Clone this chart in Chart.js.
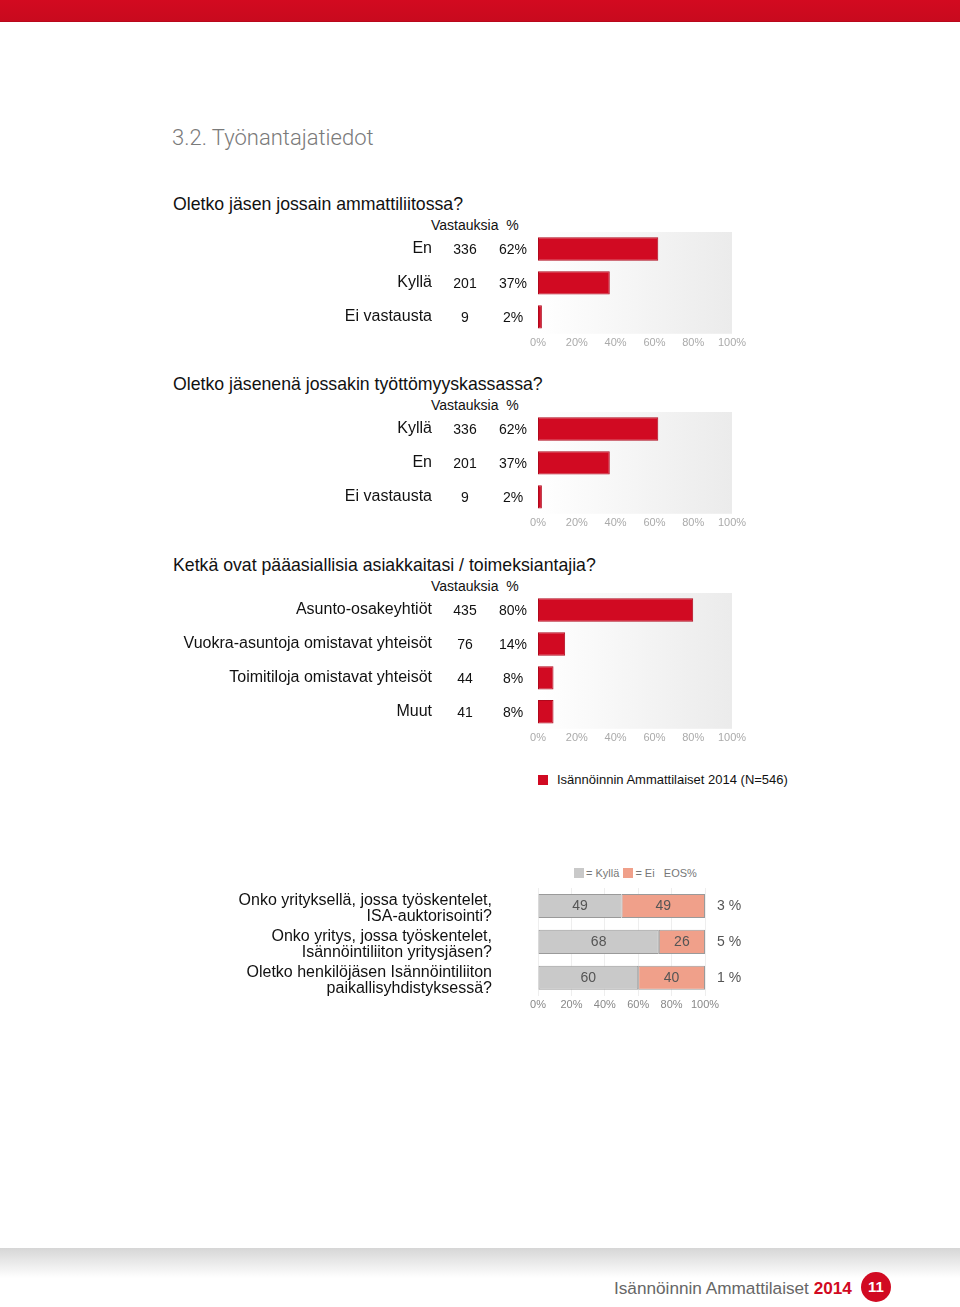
<!DOCTYPE html>
<html>
<head>
<meta charset="utf-8">
<script src="https://cdn.jsdelivr.net/npm/chart.js@4.4.0/dist/chart.umd.min.js"></script>
<style>
  body { margin: 0; width: 960px; height: 1307px; position: relative; background: #fff; font-family: "Liberation Sans", Arial, sans-serif; overflow: hidden; }
  .topbar { position: absolute; left: 0; top: 0; width: 960px; height: 21px; background: linear-gradient(#d30a20, #c80a1e); border-bottom: 1px solid #b8081c; }
  .title { position: absolute; left: 172px; top: 125px; font-family: Roboto, sans-serif; font-weight: 300; font-size: 22px; color: #7a7a7a; }
  .q { position: absolute; left: 173px; font-size: 17.7px; color: #111; }
  .colhead { position: absolute; left: 431px; font-size: 14px; color: #111; }
  .box { position: absolute; }
  .legend { position: absolute; left: 538px; top: 772px; font-size: 13px; color: #111; }
  .legend span.sw { display: inline-block; width: 10px; height: 10px; background: #d10a22; margin-right: 9px; vertical-align: -1px; }
  .legend4 { position: absolute; left: 574px; top: 867px; font-size: 11px; color: #777; }
  .legend4 .sw { display: inline-block; width: 10px; height: 10px; vertical-align: -1px; margin-right: 2px; }
  .footshade { position: absolute; left: 0; top: 1248px; width: 960px; height: 30px; background: linear-gradient(#d6d6d6, #ffffff); }
  .foot { position: absolute; left: 614px; top: 1278px; font-size: 17.2px; color: #666; }
  .foot b { color: #d10a22; }
  .pagenum { position: absolute; left: 861px; top: 1272px; width: 30px; height: 30px; border-radius: 50%; background: #d10a22; color: #fff; font-weight: bold; font-size: 15px; text-align: center; line-height: 30px; }
</style>
</head>
<body>
<div class="topbar"></div>
<div class="title">3.2. Työnantajatiedot</div>

<div class="q" style="top:194px">Oletko jäsen jossain ammattiliitossa?</div>
<div class="colhead" style="top:217px">Vastauksia&nbsp; %</div>
<div class="box" style="left:170px; top:232px; width:590px; height:121px"><canvas id="chart1"></canvas></div>

<div class="q" style="top:374px">Oletko jäsenenä jossakin työttömyyskassassa?</div>
<div class="colhead" style="top:397px">Vastauksia&nbsp; %</div>
<div class="box" style="left:170px; top:412px; width:590px; height:121px"><canvas id="chart2"></canvas></div>

<div class="q" style="top:555px">Ketkä ovat pääasiallisia asiakkaitasi / toimeksiantajia?</div>
<div class="colhead" style="top:578px">Vastauksia&nbsp; %</div>
<div class="box" style="left:170px; top:593px; width:590px; height:155px"><canvas id="chart3"></canvas></div>

<div class="legend"><span class="sw"></span>Isännöinnin Ammattilaiset 2014 (N=546)</div>

<div class="legend4"><span class="sw" style="background:#c9c9c9"></span>= Kyllä <span class="sw" style="background:#f0a08a; margin-left:1px"></span>= Ei &nbsp; EOS%</div>
<div class="box" style="left:230px; top:888px; width:530px; height:127px"><canvas id="chart4"></canvas></div>

<div class="footshade"></div>
<div class="foot">Isännöinnin Ammattilaiset <b>2014</b></div>
<div class="pagenum">11</div>

<script>
// --- data ---
const pctTicks = [0, 20, 40, 60, 80, 100];

const q1Labels = ['En', 'Kyllä', 'Ei vastausta'];
const q1Counts = [336, 201, 9];
const q1Pct = [62, 37, 2];

const q2Labels = ['Kyllä', 'En', 'Ei vastausta'];
const q2Counts = [336, 201, 9];
const q2Pct = [62, 37, 2];

const q3Labels = ['Asunto-osakeyhtiöt', 'Vuokra-asuntoja omistavat yhteisöt', 'Toimitiloja omistavat yhteisöt', 'Muut'];
const q3Counts = [435, 76, 44, 41];
const q3Pct = [80, 14, 8, 8];

const q4Questions = [
    ['Onko yrityksellä, jossa työskentelet,', 'ISA-auktorisointi?'],
    ['Onko yritys, jossa työskentelet,', 'Isännöintiliiton yritysjäsen?'],
    ['Oletko henkilöjäsen Isännöintiliiton', 'paikallisyhdistyksessä?']
];
const q4Yes = [49, 68, 60];
const q4No = [49, 26, 40];
const q4Eos = [3, 5, 1];

const RED = '#d10a22';
const FONT = '"Liberation Sans", Arial, sans-serif';

// light gradient behind the plot area
const plotBackground = {
    id: 'plotBackground',
    beforeDatasetsDraw(chart) {
        const a = chart.chartArea;
        const ctx = chart.ctx;
        const g = ctx.createLinearGradient(a.left, 0, a.right, 0);
        g.addColorStop(0, '#ffffff');
        g.addColorStop(1, '#ebebeb');
        ctx.save();
        ctx.fillStyle = g;
        ctx.fillRect(a.left, a.top, a.right - a.left, a.bottom - a.top);
        ctx.restore();
    }
};

// category / count / percent columns left of the bars
function rowLabels(labels, counts, pcts) {
    return {
        id: 'rowLabels',
        afterDraw(chart) {
            const ctx = chart.ctx;
            const y = chart.scales.y;
            const left = chart.chartArea.left;
            ctx.save();
            ctx.fillStyle = '#111';
            ctx.textBaseline = 'middle';
            labels.forEach(function (lab, i) {
                const py = y.getPixelForValue(i);
                ctx.font = '16px ' + FONT;
                ctx.textAlign = 'right';
                ctx.fillText(lab, left - 106, py);
                ctx.font = '14px ' + FONT;
                ctx.textAlign = 'center';
                ctx.fillText(counts[i], left - 73, py + 1);
                ctx.fillText(pcts[i] + '%', left - 25, py + 1);
            });
            ctx.restore();
        }
    };
}

function makeBarChart(id, labels, counts, pcts) {
    const ctx = document.getElementById(id).getContext('2d');
    return new Chart(ctx, {
        type: 'bar',
        data: {
            labels: labels,
            datasets: [{
                data: pcts,
                backgroundColor: RED,
                borderColor: '#b0081c',
                borderWidth: 1,
                borderSkipped: false,
                barPercentage: 0.69,
                categoryPercentage: 1
            }]
        },
        options: {
            indexAxis: 'y',
            responsive: true,
            maintainAspectRatio: false,
            animation: false,
            layout: { padding: { left: 368, right: 28, top: 0, bottom: 0 } },
            plugins: { legend: { display: false }, tooltip: { enabled: false } },
            scales: {
                x: {
                    min: 0, max: 100,
                    afterBuildTicks: function (scale) { scale.ticks = pctTicks.map(function (v) { return { value: v }; }); },
                    grid: { display: false, drawTicks: false },
                    border: { display: false },
                    ticks: { padding: 3, maxRotation: 0, minRotation: 0, autoSkip: false, color: '#aaa', font: { size: 11, family: FONT }, callback: function (v) { return v + '%'; } }
                },
                y: { display: false }
            }
        },
        plugins: [plotBackground, rowLabels(labels, counts, pcts)]
    });
}

makeBarChart('chart1', q1Labels, q1Counts, q1Pct);
makeBarChart('chart2', q2Labels, q2Counts, q2Pct);
makeBarChart('chart3', q3Labels, q3Counts, q3Pct);

// chart 4: yes/no normalised to 100 %, EOS shown on the side
const yesShare = q4Yes.map(function (v, i) { return v / (v + q4No[i]) * 100; });
const noShare = q4No.map(function (v, i) { return v / (q4Yes[i] + v) * 100; });

const chart4Labels = {
    id: 'chart4Labels',
    afterDraw(chart) {
        const ctx = chart.ctx;
        const a = chart.chartArea;
        const y = chart.scales.y;
        ctx.save();
        ctx.textBaseline = 'middle';
        // numbers inside the bars
        ctx.font = '14px ' + FONT;
        ctx.fillStyle = '#555';
        ctx.textAlign = 'center';
        [q4Yes, q4No].forEach(function (vals, d) {
            chart.getDatasetMeta(d).data.forEach(function (bar, i) {
                ctx.fillText(vals[i], (bar.x + bar.base) / 2, bar.y);
            });
        });
        // EOS column
        ctx.textAlign = 'left';
        q4Eos.forEach(function (v, i) {
            ctx.fillText(v + ' %', a.right + 12, y.getPixelForValue(i));
        });
        // questions
        ctx.font = '16px ' + FONT;
        ctx.fillStyle = '#111';
        ctx.textAlign = 'right';
        q4Questions.forEach(function (lines, i) {
            const py = y.getPixelForValue(i);
            ctx.fillText(lines[0], a.left - 46, py - 5);
            ctx.fillText(lines[1], a.left - 46, py + 11);
        });
        ctx.restore();
    }
};

new Chart(document.getElementById('chart4').getContext('2d'), {
    type: 'bar',
    data: {
        labels: ['1', '2', '3'],
        datasets: [
            { label: 'Kyllä', data: yesShare, backgroundColor: '#c9c9c9', borderColor: '#9a9a9a', borderWidth: 1, borderSkipped: false, barPercentage: 0.67, categoryPercentage: 1 },
            { label: 'Ei', data: noShare, backgroundColor: '#f0a08a', borderColor: '#9a9a9a', borderWidth: 1, borderSkipped: false, barPercentage: 0.67, categoryPercentage: 1 }
        ]
    },
    options: {
        indexAxis: 'y',
        responsive: true,
        maintainAspectRatio: false,
        animation: false,
        layout: { padding: { left: 308, right: 55, top: 0, bottom: 0 } },
        plugins: { legend: { display: false }, tooltip: { enabled: false } },
        scales: {
            x: {
                stacked: true,
                min: 0, max: 100,
                afterBuildTicks: function (scale) { scale.ticks = pctTicks.map(function (v) { return { value: v }; }); },
                grid: { color: '#eeeeee', drawTicks: false },
                border: { display: false },
                ticks: { padding: 3, maxRotation: 0, minRotation: 0, autoSkip: false, color: '#888', font: { size: 11, family: FONT }, callback: function (v) { return v + '%'; } }
            },
            y: { stacked: true, display: false }
        }
    },
    plugins: [chart4Labels]
});
</script>
</body>
</html>
